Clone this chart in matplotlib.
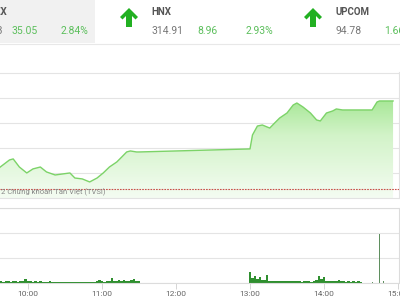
import matplotlib.pyplot as plt
import numpy as np
from matplotlib.colors import LinearSegmentedColormap
from matplotlib.patches import Polygon, Rectangle

plt.rcParams['font.family'] = ['Roboto', 'DejaVu Sans']

# header quotes
idx_names = ['VN-INDEX', 'HNX', 'UPCOM']
idx_values = ['1269.23', '314.91', '94.78']
idx_changes = ['35.05', '8.96', '']
idx_pct = ['2.84%', '2.93%', '1.66%']

# HNX intraday (time, index)
price_times = ['09:36', '09:45', '09:48', '09:53', '09:59', '10:04', '10:10', '10:15',
               '10:22', '10:28', '10:34', '10:38', '10:44', '10:50', '10:56', '11:01',
               '11:06', '11:12', '11:16', '11:20', '11:23', '11:28', '11:30', '13:00',
               '13:02', '13:06', '13:10', '13:16', '13:20', '13:24', '13:30', '13:35',
               '13:38', '13:43', '13:49', '13:54', '13:57', '14:02', '14:07', '14:10',
               '14:15', '14:39', '14:43', '14:45', '14:56']
prices = [308.00, 308.84, 308.94, 308.14, 307.55, 307.95, 308.14, 307.65,
          307.35, 307.45, 307.55, 307.05, 306.96, 306.66, 307.05, 307.55,
          308.14, 308.64, 309.13, 309.63, 309.73, 309.63, 309.63, 309.93,
          311.31, 312.20, 312.30, 312.00, 312.50, 312.99, 313.49, 314.28,
          314.48, 314.08, 313.49, 312.80, 312.70, 313.49, 313.69, 313.89,
          313.79, 313.79, 314.58, 314.68, 314.68]
ref_price = 305.95

# volume (relative units), 2-minute bars
vol_morning_start = '09:36'
vol_morning = [0.07, 0.08, 0.06, 0.07, 0.08, 0.06, 0.07, 0.07, 0.06, 0.08,
               0.09, 0.15, 0.08, 0.07, 0.06, 0.07, 0.06, 0.07, 0.06, 0.05,
               0.06, 0.07, 0.06, 0.05, 0.06, 0.05, 0.06, 0.05, 0.06, 0.05,
               0.06, 0.05, 0.06, 0.05, 0.06, 0.05, 0.05, 0.06, 0.05, 0.06,
               0.08, 0.12, 0.07, 0.06, 0.08, 0.09, 0.19, 0.10, 0.08, 0.11,
               0.09, 0.14, 0.10, 0.09, 0.11, 0.18, 0.09, 0.08]
vol_afternoon_start = '13:00'
vol_afternoon = [0.46, 0.22, 0.28, 0.18, 0.24, 0.14, 0.12, 0.33, 0.10, 0.09,
                 0.08, 0.08, 0.07, 0.08, 0.07, 0.08, 0.07, 0.08, 0.07, 0.08,
                 0.07, 0.06, 0.07, 0.08, 0.07, 0.06, 0.09, 0.12, 0.27, 0.15,
                 0.26, 0.10, 0.08, 0.07, 0.08, 0.07, 0.13, 0.08, 0.07, 0.06,
                 0.07, 0.06, 0.07, 0.06, 0.07, 0.06]
atc_times = ['14:39', '14:45', '14:48']
atc_vol = [0.04, 1.96, 0.10]

tick_labels = ['10:00', '11:00', '12:00', '13:00', '14:00', '15:00']


def to_min(s):
    # minutes after 09:00
    h, m = s.split(':')
    return (int(h) - 9) * 60 + int(m)


t = np.array([to_min(s) for s in price_times])
p = np.array(prices)
tv1 = to_min(vol_morning_start) + 2 * np.arange(len(vol_morning))
tv2 = to_min(vol_afternoon_start) + 2 * np.arange(len(vol_afternoon))
ta = np.array([to_min(s) for s in atc_times])
ticks = [to_min(s) for s in tick_labels]

# pixel layout (400x300 figure)
W, H = 400, 300
min_per_px = 60 / 74.0
xmin = 60 - 28 * min_per_px
right_px = 398.5
xmax = xmin + right_px * min_per_px

fig = plt.figure(figsize=(4, 3), dpi=100)

# ---- price panel
ax = fig.add_axes([0, (H - 198) / H, right_px / W, (198 - 72) / H])
ylo, yhi = 305.07, 317.55
ax.set_xlim(xmin, xmax)
ax.set_ylim(ylo, yhi)
ax.set_yticks([307.5, 310, 312.5, 315, 317.5])
ax.set_xticks([])
ax.tick_params(left=False, labelleft=False)
ax.grid(axis='y', color='#e4e4e4', lw=0.8)
ax.set_axisbelow(True)
for s in ['left', 'top']:
    ax.spines[s].set_visible(False)
for s in ['right', 'bottom']:
    ax.spines[s].set_color('#e2e2e2')
    ax.spines[s].set_linewidth(0.8)

cmap = LinearSegmentedColormap.from_list('g', ['#f4fcf2', '#d2f3c8', '#86de70'])
grad = np.linspace(0, 1, 256).reshape(-1, 1)
im = ax.imshow(grad, cmap=cmap, aspect='auto', origin='lower',
               extent=[xmin, xmax, ylo, yhi], zorder=1)
verts = np.vstack([[t[0], ylo], np.column_stack([t, p]), [t[-1], ylo]])
clip = Polygon(verts, closed=True, facecolor='none', edgecolor='none')
ax.add_patch(clip)
im.set_clip_path(clip)
ax.plot(t, p, color='#7cd368', lw=1.0, zorder=3)
ax.axhline(ref_price, color='#c8504a', lw=0.8, ls=(0, (1.5, 1)), zorder=4)

# ---- volume panel
av = fig.add_axes([0, (H - 283) / H, right_px / W, (283 - 208) / H])
av.set_xlim(xmin, xmax)
av.set_ylim(0, 3)
av.bar(tv1, vol_morning, width=2, color='#2f8f2f', lw=0)
av.bar(tv2, vol_afternoon, width=2, color='#2f8f2f', lw=0)
av.bar(ta, atc_vol, width=0.9, color='#5f8f5f', lw=0)
av.set_yticks([0, 1, 2, 3])
av.tick_params(left=False, labelleft=False)
av.grid(axis='y', color='#e4e4e4', lw=0.8)
av.set_axisbelow(True)
av.set_xticks(ticks)
av.set_xticklabels(tick_labels)
av.tick_params(axis='x', length=4, width=0.6, color='#cfcfcf',
               labelsize=6, labelcolor='#666', pad=2)
av.spines['left'].set_visible(False)
for s in ['right', 'top', 'bottom']:
    av.spines[s].set_color('#dcdcdc')
    av.spines[s].set_linewidth(0.8)

# ---- header overlay (pixel coords)
ov = fig.add_axes([0, 0, 1, 1], zorder=5)
ov.set_xlim(0, W)
ov.set_ylim(H, 0)
ov.axis('off')
ov.add_patch(Rectangle((0, 0), 95, 43, facecolor='#f1f1f1', edgecolor='none'))
ov.plot([0, W], [43.5, 43.5], color='#e8e8e8', lw=0.8)

green = '#5cbf5c'
ov.text(7.5, 12, idx_names[0], ha='right', va='center', fontsize=7,
        fontweight='bold', color='#555')
ov.text(2.5, 31, idx_values[0], ha='right', va='center', fontsize=7.5, color='#777')
ov.text(25, 31, idx_changes[0], ha='center', va='center', fontsize=7.5, color=green)
ov.text(74.5, 31, idx_pct[0], ha='center', va='center', fontsize=7.5, color=green)

ov.text(151, 12, idx_names[1], ha='left', va='center', fontsize=7,
        fontweight='bold', color='#555')
ov.text(151, 31, idx_values[1], ha='left', va='center', fontsize=7.5, color='#777')
ov.text(207, 31, idx_changes[1], ha='center', va='center', fontsize=7.5, color=green)
ov.text(259, 31, idx_pct[1], ha='center', va='center', fontsize=7.5, color=green)

ov.text(336, 12, idx_names[2], ha='left', va='center', fontsize=7,
        fontweight='bold', color='#555')
ov.text(336, 31, idx_values[2], ha='left', va='center', fontsize=7.5, color='#777')
ov.text(384, 31, idx_pct[2], ha='left', va='center', fontsize=7.5, color=green)

arrow = np.array([[0, -9.5], [9, -0.5], [6.5, 2], [3, -1.5], [3, 9.5],
                  [-3, 9.5], [-3, -1.5], [-6.5, 2], [-9, -0.5]])
for cx in [129, 313]:
    ov.add_patch(Polygon(arrow + [cx, 17.5], closed=True,
                         facecolor='#22b022', edgecolor='none'))

ov.text(1, 192, '2 Chứng khoán Tân Việt (TVSI)', ha='left', va='center',
        fontsize=5.5, color='#888')

fig.savefig('out.png', dpi=100)
